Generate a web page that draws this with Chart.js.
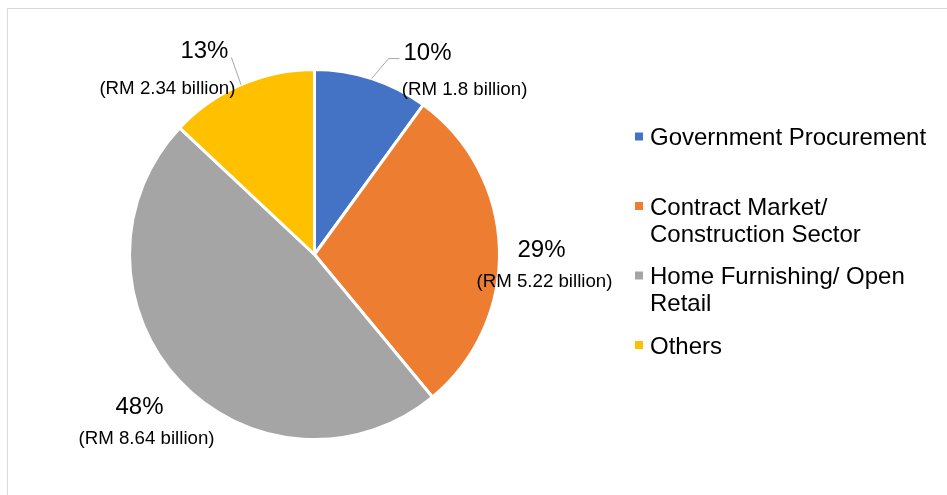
<!DOCTYPE html>
<html>
<head>
<meta charset="utf-8">
<script src="https://cdn.jsdelivr.net/npm/chart.js@4"></script>
<style>
  html, body { margin: 0; padding: 0; background: #fff; overflow: hidden; }
  #frame { position: absolute; left: 7px; top: 8px; width: 1000px; height: 600px; border: 1px solid #d9d9d9; }
  #pie { position: absolute; left: 0; top: 0; }
</style>
</head>
<body>
<div id="frame"></div>
<canvas id="pie" width="947" height="495"></canvas>
<script>
// --- Data ---
const categories = [
    ['Government Procurement'],
    ['Contract Market/', 'Construction Sector'],
    ['Home Furnishing/ Open', 'Retail'],
    ['Others']
];
const valuesRM = [1.8, 5.22, 8.64, 2.34]; // RM billion
const colors = ['#4472C4', '#ED7D31', '#A5A5A5', '#FFC000'];

// label placement, in units of the pie radius from its centre
const labelSpots = [
    { pct: [0.611, -1.097], rm: [0.811, -0.897], leader: [[0.400, -1.059], [0.459, -1.059]] },
    { pct: [1.227, -0.032], rm: [1.243, 0.141] },
    { pct: [-0.946, 0.816], rm: [-0.908, 0.989] },
    { pct: [-0.595, -1.108], rm: [-0.795, -0.903], leader: [[-0.449, -1.065]] }
];

const FONT = '"Liberation Sans", Arial, sans-serif';
const total = valuesRM.reduce((a, b) => a + b, 0);

// --- Data labels: percentage + amount, with leader lines ---
const sliceLabels = {
    id: 'sliceLabels',
    afterDatasetsDraw(chart) {
        const c = chart.ctx;
        const arcs = chart.getDatasetMeta(0).data;
        arcs.forEach((arc, i) => {
            const spot = labelSpots[i];
            const r = arc.outerRadius;
            const cx = arc.x, cy = arc.y;

            if (spot.leader) {
                const mid = (arc.startAngle + arc.endAngle) / 2;
                c.save();
                c.strokeStyle = '#A6A6A6';
                c.lineWidth = 1;
                c.beginPath();
                c.moveTo(cx + Math.cos(mid) * r, cy + Math.sin(mid) * r);
                spot.leader.forEach(p => c.lineTo(cx + p[0] * r, cy + p[1] * r));
                c.stroke();
                c.restore();
            }

            const pct = Math.round(valuesRM[i] / total * 100) + '%';
            c.save();
            c.fillStyle = '#000';
            c.textAlign = 'center';
            c.textBaseline = 'alphabetic';
            c.font = '24px ' + FONT;
            c.fillText(pct, cx + spot.pct[0] * r, cy + spot.pct[1] * r + 24 * 0.358);
            c.font = '18.7px ' + FONT;
            c.fillText('(RM ' + valuesRM[i] + ' billion)', cx + spot.rm[0] * r, cy + spot.rm[1] * r + 18.7 * 0.358);
            c.restore();
        });
    }
};

// --- Legend on the right, with wrapped entries ---
const sideLegend = {
    id: 'sideLegend',
    afterDraw(chart) {
        const c = chart.ctx;
        const labels = chart.data.labels;
        const bg = chart.data.datasets[0].backgroundColor;
        const boxX = 635, textX = 650, firstY = 136.5, stride = 69.5, lineH = 27;
        c.save();
        c.font = '24px ' + FONT;
        c.textAlign = 'left';
        c.textBaseline = 'alphabetic';
        labels.forEach((lines, i) => {
            const y = firstY + i * stride;
            c.fillStyle = bg[i];
            c.fillRect(boxX, y - 4, 8, 8);
            c.fillStyle = '#000';
            lines.forEach((line, k) => c.fillText(line, textX, y + k * lineH + 24 * 0.358));
        });
        c.restore();
    }
};

new Chart(document.getElementById('pie'), {
    type: 'pie',
    data: {
        labels: categories,
        datasets: [{
            data: valuesRM,
            backgroundColor: colors,
            borderColor: '#fff',
            borderWidth: 3
        }]
    },
    options: {
        responsive: false,
        animation: false,
        layout: { padding: { left: 128, top: 68, right: 446, bottom: 54 } },
        plugins: {
            legend: { display: false },
            tooltip: { enabled: false }
        }
    },
    plugins: [sliceLabels, sideLegend]
});
</script>
</body>
</html>
